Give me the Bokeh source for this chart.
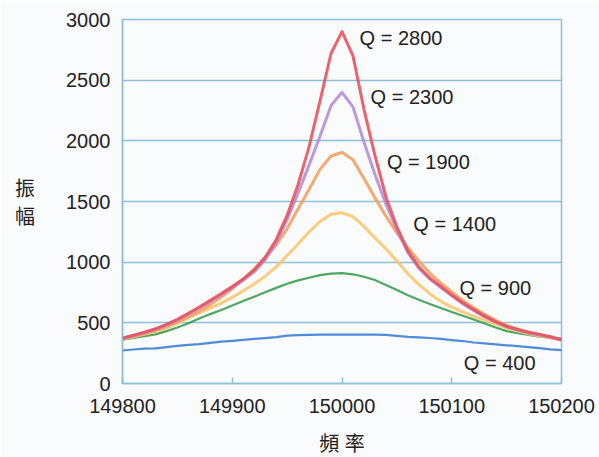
from bokeh.plotting import figure
from bokeh.models import Range1d, Label, FixedTicker, BasicTickFormatter
from bokeh.embed import file_html
from bokeh.resources import INLINE

# Drive frequency (Hz), sampled every 10 Hz
freq = [149800 + 10 * i for i in range(41)]

# Response amplitude for each quality factor
amp_q2800 = [375, 398, 422, 451, 487, 528, 578, 630, 685, 742,
             800, 862, 935, 1040, 1185, 1385, 1640, 1950, 2330, 2720,
             2900,
             2700, 2260, 1880, 1540, 1290, 1095, 962, 870, 800, 730,
             665, 609, 555, 510, 472, 445, 422, 405, 385, 362]
amp_q2300 = [370, 393, 417, 446, 481, 522, 571, 622, 676, 732,
             790, 850, 920, 1020, 1160, 1350, 1570, 1800, 2040, 2290,
             2400,
             2280, 1990, 1725, 1480, 1265, 1078, 948, 860, 790, 722,
             658, 602, 549, 505, 467, 440, 417, 400, 380, 358]
amp_q1900 = [368, 390, 412, 438, 470, 505, 548, 595, 650, 712,
             780, 858, 945, 1035, 1140, 1275, 1440, 1600, 1765, 1875,
             1905,
             1845, 1690, 1530, 1380, 1240, 1120, 1010, 910, 828, 755,
             685, 625, 570, 520, 480, 448, 422, 402, 382, 360]
amp_q1400 = [365, 385, 405, 428, 458, 498, 540, 582, 622, 662,
             710, 765, 820, 885, 960, 1055, 1150, 1250, 1335, 1395,
             1407,
             1375, 1295, 1200, 1110, 1010, 905, 815, 740, 677, 630,
             590, 554, 520, 488, 459, 432, 410, 392, 375, 360]
amp_q900 = [362, 375, 390, 405, 432, 462, 497, 535, 572, 606,
            643, 680, 715, 752, 788, 822, 850, 872, 893, 905,
            910,
            900, 880, 853, 812, 770, 728, 690, 655, 622, 590,
            558, 527, 495, 462, 432, 415, 400, 387, 378, 368]
amp_q400 = [272, 280, 288, 290, 300, 310, 318, 325, 335, 345,
            352, 360, 368, 374, 382, 395, 398, 400, 402, 403,
            403,
            403, 402, 402, 400, 393, 385, 380, 375, 368, 358,
            350, 338, 330, 322, 315, 308, 300, 292, 282, 275]

q_labels = ["Q = 2800", "Q = 2300", "Q = 1900", "Q = 1400", "Q = 900", "Q = 400"]
label_x = [150016, 150026, 150041, 150065, 150107, 150111]
label_y = [2851, 2364, 1826, 1314, 785, 165]

x_ticks = [149800, 149900, 150000, 150100, 150200]
y_ticks = [0, 500, 1000, 1500, 2000, 2500, 3000]

grid_blue = "#8fbfd5"
bg = "#fafbfd"
ink = "#222222"
latin = "Liberation Sans"
cjk = "Noto Sans CJK TC"

p = figure(width=599, height=457, output_backend="svg", toolbar_location=None,
           x_range=Range1d(149800, 150200), y_range=Range1d(0, 3000),
           min_border_left=122, min_border_right=38,
           min_border_top=19, min_border_bottom=74)
p.background_fill_color = bg
p.border_fill_color = bg
p.outline_line_color = grid_blue
p.outline_line_width = 1.5

p.xgrid.grid_line_color = None
p.ygrid.grid_line_color = grid_blue
p.ygrid.grid_line_width = 1.5

p.xaxis.ticker = FixedTicker(ticks=x_ticks)
p.xaxis.formatter = BasicTickFormatter(use_scientific=False)
p.yaxis.ticker = FixedTicker(ticks=y_ticks)
for ax in (p.xaxis, p.yaxis):
    ax.axis_line_color = grid_blue
    ax.axis_line_width = 1.5
    ax.major_tick_line_color = grid_blue
    ax.major_tick_line_width = 1.5
    ax.minor_tick_line_color = None
    ax.major_label_text_font = latin
    ax.major_label_text_font_size = "20px"
    ax.major_label_text_color = ink
    ax.axis_label_text_font_size = "20px"
    ax.axis_label_text_font_style = "normal"
    ax.axis_label_text_color = ink
p.xaxis.major_tick_in = 6
p.xaxis.major_tick_out = 0
p.xaxis.major_label_standoff = 15
p.yaxis.major_tick_in = 0
p.yaxis.major_tick_out = 0
p.yaxis.major_label_standoff = 12

# Axis titles; the Latin family keeps the title box compact while the
# ideographs are drawn from the CJK fallback
p.xaxis.axis_label = "頻 率"
p.xaxis.axis_label_text_font = f"{latin}, {cjk}"
p.xaxis.axis_label_standoff = 17
p.yaxis.axis_label = "振\n幅"
p.yaxis.axis_label_text_font = cjk
p.yaxis.axis_label_orientation = "horizontal"
p.yaxis.axis_label_standoff = 28
p.yaxis.axis_label_text_line_height = 0.95

series = [
    (amp_q400, "#3d7fd3", 2.2),
    (amp_q900, "#3a9e4e", 2.2),
    (amp_q1400, "#fcc56e", 3.0),
    (amp_q1900, "#f4a05e", 3.0),
    (amp_q2300, "#b58ed6", 3.0),
    (amp_q2800, "#e9535d", 3.0),
]
for ys, color, w in series:
    p.line(freq, ys, line_color=color, line_width=w, line_alpha=0.9,
           line_join="round", line_cap="round")

for txt, lx, ly in zip(q_labels, label_x, label_y):
    p.add_layout(Label(x=lx, y=ly, text=txt, text_font=latin,
                       text_font_size="20px", text_color=ink,
                       text_align="left", text_baseline="middle"))

open("out.html", "w").write(file_html(p, INLINE))
